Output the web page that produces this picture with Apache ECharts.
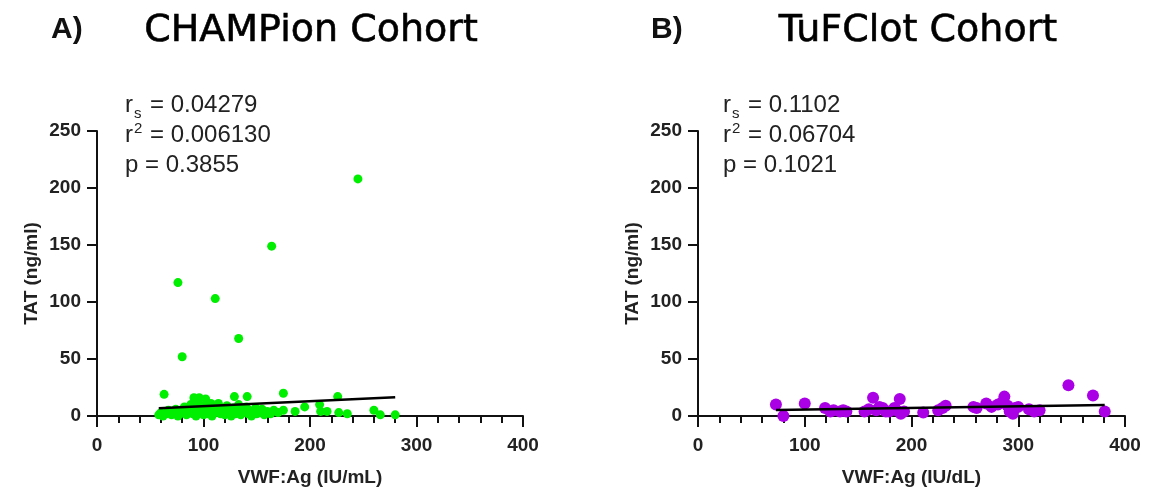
<!DOCTYPE html>
<html>
<head>
<meta charset="utf-8">
<script src="https://cdn.jsdelivr.net/npm/echarts@6/dist/echarts.min.js"></script>
<style>
  html, body { margin: 0; padding: 0; background: #fff; }
  #chart { width: 1150px; height: 496px; }
</style>
</head>
<body>
<div id="chart"></div>
<script>
// CHAMPion cohort: VWF:Ag (IU/mL) vs TAT (ng/ml)
const champVwf = [245, 164, 76, 111, 133, 80,
  63, 175, 226, 129, 141, 91, 96, 102, 114,
  175, 186, 195, 209, 210, 216, 227, 235, 260, 266, 280,
  58, 60, 62, 65, 67, 70, 72, 74, 76, 78, 80, 82, 84, 85, 87, 88, 90, 91, 93, 94,
  95, 97, 98, 100, 101, 103, 104, 106, 107, 108, 110, 111, 113, 116, 117, 119, 120,
  122, 123, 125, 126, 128, 130, 131, 133, 135, 136, 138, 140, 142, 143, 145, 147,
  149, 150, 152, 155, 157, 160, 163, 166, 170]
const champTat = [208, 149, 117, 103, 68, 52,
  19, 20, 17, 17, 17, 16, 16, 15, 11,
  5, 4, 8, 10, 4, 4, 3, 2, 5, 1, 1,
  1, 3, 0, 2, 5, 1, 3, 6, 0, 2, 4, 8, 1, 3, 5, 10, 2, 7, 0, 4,
  12, 3, 6, 1, 9, 4, 2, 7, 11, 0, 5, 3, 8, 2, 6, 4, 1,
  9, 3, 5, 0, 7, 2, 4, 10, 1, 6, 3, 8, 2, 5, 0, 4,
  7, 2, 3, 6, 1, 4, 2, 5, 3]
const champFitX = [58, 280]
const champFitY = [6.8, 16.4]

// TuFClot cohort: VWF:Ag (IU/dL) vs TAT (ng/ml)
const tufVwf = [73, 80, 100, 119, 124, 127, 133, 136, 139, 156, 160, 164, 167, 170, 173,
  176, 179, 184, 186, 189, 190, 193, 211, 225, 229, 232, 258, 261, 270, 275, 281,
  285, 287, 290, 292, 295, 297, 300, 310, 315, 320, 347, 370, 381]
const tufTat = [10, 0, 11, 7, 4, 5, 4, 5, 4, 4, 6, 16, 5, 8, 7,
  4, 4, 7, 5, 15, 2, 4, 3, 5, 7, 9, 8, 7, 11, 8, 10,
  12, 17, 9, 4, 2, 7, 8, 6, 4, 5, 27, 18, 4]
const tufFitX = [73, 381]
const tufFitY = [5.3, 9.6]

const panelLetters = ['A)', 'B)']
const panelTitles = ['CHAMPion Cohort', 'TuFClot Cohort']
const xNames = ['VWF:Ag (IU/mL)', 'VWF:Ag (IU/dL)']
const yName = 'TAT (ng/ml)'
const rsValues = ['0.04279', '0.1102']
const r2Values = ['0.006130', '0.06704']
const pValues = ['0.3855', '0.1021']

const zip = (a, b) => a.map((v, i) => [v, b[i]])

const chart = echarts.init(document.getElementById('chart'))

const fontFam = '"Liberation Sans", Arial, sans-serif'

function xAxisFor(i) {
  return {
    gridIndex: i, type: 'value', min: 0, max: 400, interval: 100,
    name: xNames[i], nameLocation: 'middle', nameGap: 52,
    nameTextStyle: { fontSize: 19, fontWeight: 'bold', color: '#222', fontFamily: fontFam },
    axisLine: { lineStyle: { color: '#111', width: 2 } },
    axisTick: { show: true, length: 11, lineStyle: { color: '#111', width: 2 } },
    minorTick: { show: true, splitNumber: 5, length: 7, lineStyle: { color: '#111', width: 2 } },
    splitLine: { show: false },
    axisLabel: { margin: 20, fontSize: 19, fontWeight: 'bold', color: '#222', fontFamily: fontFam }
  }
}

function yAxisFor(i) {
  return {
    gridIndex: i, type: 'value', min: 0, max: 250, interval: 50,
    name: yName, nameLocation: 'middle', nameGap: 56, nameRotate: 90,
    nameTextStyle: { fontSize: 19, fontWeight: 'bold', color: '#222', fontFamily: fontFam },
    axisLine: { show: true, lineStyle: { color: '#111', width: 2 } },
    axisTick: { show: true, length: 10, lineStyle: { color: '#111', width: 2 } },
    splitLine: { show: false },
    axisLabel: { margin: 16, fontSize: 19, fontWeight: 'bold', color: '#222', fontFamily: fontFam }
  }
}

// stats block, text drawn piece by piece for sub/superscripts
function statsText(x, i) {
  const big = { fontSize: 24, fontFamily: fontFam, fill: '#222' }
  const small = { fontSize: 15, fontFamily: fontFam, fill: '#222' }
  return [
    { type: 'text', left: x, top: 93, style: Object.assign({ text: 'r' }, big) },
    { type: 'text', left: x + 9, top: 106, style: Object.assign({ text: 's' }, small) },
    { type: 'text', left: x + 25, top: 93, style: Object.assign({ text: '= ' + rsValues[i] }, big) },
    { type: 'text', left: x, top: 123, style: Object.assign({ text: 'r' }, big) },
    { type: 'text', left: x + 9, top: 121, style: Object.assign({ text: '2' }, small) },
    { type: 'text', left: x + 25, top: 123, style: Object.assign({ text: '= ' + r2Values[i] }, big) },
    { type: 'text', left: x, top: 153, style: Object.assign({ text: 'p' }, big) },
    { type: 'text', left: x + 20, top: 153, style: Object.assign({ text: '= ' + pValues[i] }, big) }
  ]
}

const option = {
  animation: false,
  backgroundColor: '#fff',
  grid: [
    { left: 97, right: 627, top: 131, bottom: 80 },
    { left: 698, right: 25, top: 131, bottom: 80 }
  ],
  xAxis: [xAxisFor(0), xAxisFor(1)],
  yAxis: [yAxisFor(0), yAxisFor(1)],
  graphic: [
    { type: 'text', left: 51, top: 15, style: { text: panelLetters[0], fontSize: 30, fontWeight: 'bold', fontFamily: fontFam, fill: '#111' } },
    { type: 'text', left: 651, top: 15, style: { text: panelLetters[1], fontSize: 30, fontWeight: 'bold', fontFamily: fontFam, fill: '#111' } },
    { type: 'text', x: 311, y: 31, style: { text: panelTitles[0], fontSize: 38, fontFamily: '"DejaVu Sans", sans-serif', fill: '#000', stroke: '#000', lineWidth: 0.6, align: 'center', verticalAlign: 'middle' } },
    { type: 'text', x: 918, y: 31, style: { text: panelTitles[1], fontSize: 38, fontFamily: '"DejaVu Sans", sans-serif', fill: '#000', stroke: '#000', lineWidth: 0.6, align: 'center', verticalAlign: 'middle' } }
  ].concat(statsText(125, 0), statsText(723, 1)),
  series: [
    {
      type: 'scatter', xAxisIndex: 0, yAxisIndex: 0,
      data: zip(champVwf, champTat), symbolSize: 9,
      itemStyle: { color: '#00ee00', opacity: 1 }
    },
    {
      type: 'line', xAxisIndex: 0, yAxisIndex: 0,
      data: zip(champFitX, champFitY), symbol: 'none', z: 5,
      lineStyle: { color: '#000', width: 2.5 }
    },
    {
      type: 'scatter', xAxisIndex: 1, yAxisIndex: 1,
      data: zip(tufVwf, tufTat), symbolSize: 12,
      itemStyle: { color: '#aa00e6', opacity: 1 }
    },
    {
      type: 'line', xAxisIndex: 1, yAxisIndex: 1,
      data: zip(tufFitX, tufFitY), symbol: 'none', z: 5,
      lineStyle: { color: '#000', width: 2.5 }
    }
  ]
}

chart.setOption(option)
</script>
</body>
</html>
